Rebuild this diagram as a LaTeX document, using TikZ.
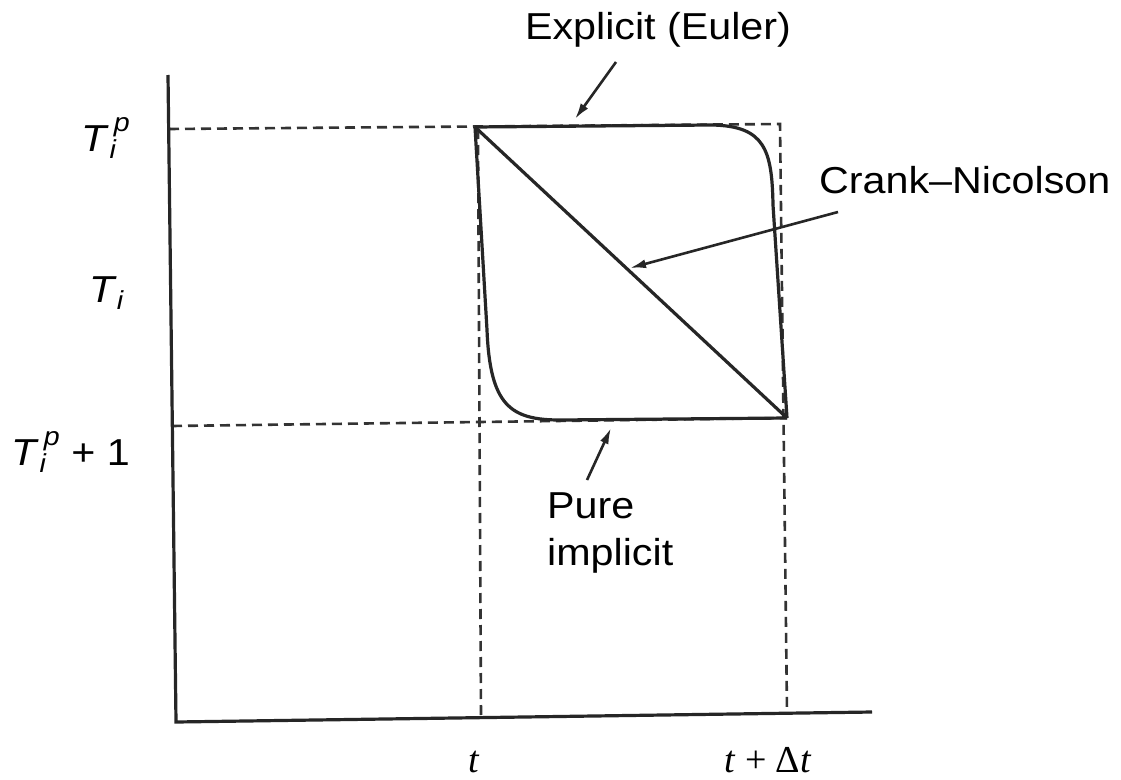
\documentclass[tikz,border=0pt]{standalone}
\usepackage{fontspec}
\setmainfont{Liberation Sans}[FakeStretch=1.1]
\newfontfamily\serifit{Liberation Serif}
\usetikzlibrary{arrows.meta}
\newcommand{\Tip}{\textit{T}\rlap{\raisebox{-0.35ex}{\fontsize{26}{28}\selectfont\textit{i}}}\raisebox{1.0ex}{\fontsize{26}{28}\selectfont\,\textit{p}}}
\begin{document}
\begin{tikzpicture}[x=1pt,y=-1pt,
  lbl/.style={inner sep=0pt,font=\fontsize{37.5}{47}\selectfont},
  axis/.style={line width=3.2pt,black!85},
  guide/.style={line width=2.6pt,black!80,dash pattern=on 10pt off 6pt},
  curve/.style={line width=3.2pt,black!85},
  pointer/.style={line width=2.6pt,black!85,-{Latex[length=16pt,width=9pt]}}]
\useasboundingbox[fill=white] (0,0) rectangle (1121,779);
% points
\coordinate (A) at (475,127);
\coordinate (B) at (787,418);
\coordinate (ytop) at (168,75);
\coordinate (O) at (176,722);
\coordinate (xend) at (872,712);
% guides
\draw[guide] (169,129) -- (780,124) -- (787,712);
\draw[guide] (172,426) -- (B);
\draw[guide] (478,129) -- (481,717);
% axes
\draw[axis] (ytop) -- (O) -- (xend);
% curves
\draw[curve] (A) -- (712,125) .. controls (765,126) and (772,150) .. (773,205) -- (B);
\draw[curve] (A) -- (487,330) .. controls (490,405) and (510,420) .. (560,420) -- (B);
\draw[curve] (A) -- (B);
% labels
\node[lbl] (ex) at (658,30) {Explicit (Euler)};
\node[lbl,anchor=west] (cn) at (819,180) {Crank--Nicolson};
\node[lbl,anchor=north west,align=left] (pi) at (547,492) {Pure\\implicit};
\node[lbl,anchor=east] (l1) at (130,138) {\Tip};
\node[lbl,anchor=east] (l2) at (124,293) {\textit{T}\raisebox{-0.35ex}{\fontsize{26}{28}\selectfont\textit{i}}};
\node[lbl,anchor=east] (l3) at (130,452) {\Tip\ + 1};
\node[lbl,font=\fontsize{38}{40}\selectfont\serifit] (t1) at (474,762) {\textit{t}};
\node[lbl,font=\fontsize{38}{40}\selectfont\serifit] (t2) at (768,760) {\textit{t} + Δ\textit{t}};
% pointers
\coordinate (exs) at (616,62);
\coordinate (exe) at (575,119);
\coordinate (cns) at (838,212);
\coordinate (cne) at (630,268);
\coordinate (pis) at (587,480);
\coordinate (pie) at (611,428);
\draw[pointer] (exs) -- (exe);
\draw[pointer] (cns) -- (cne);
\draw[pointer] (pis) -- (pie);
\end{tikzpicture}
\end{document}
